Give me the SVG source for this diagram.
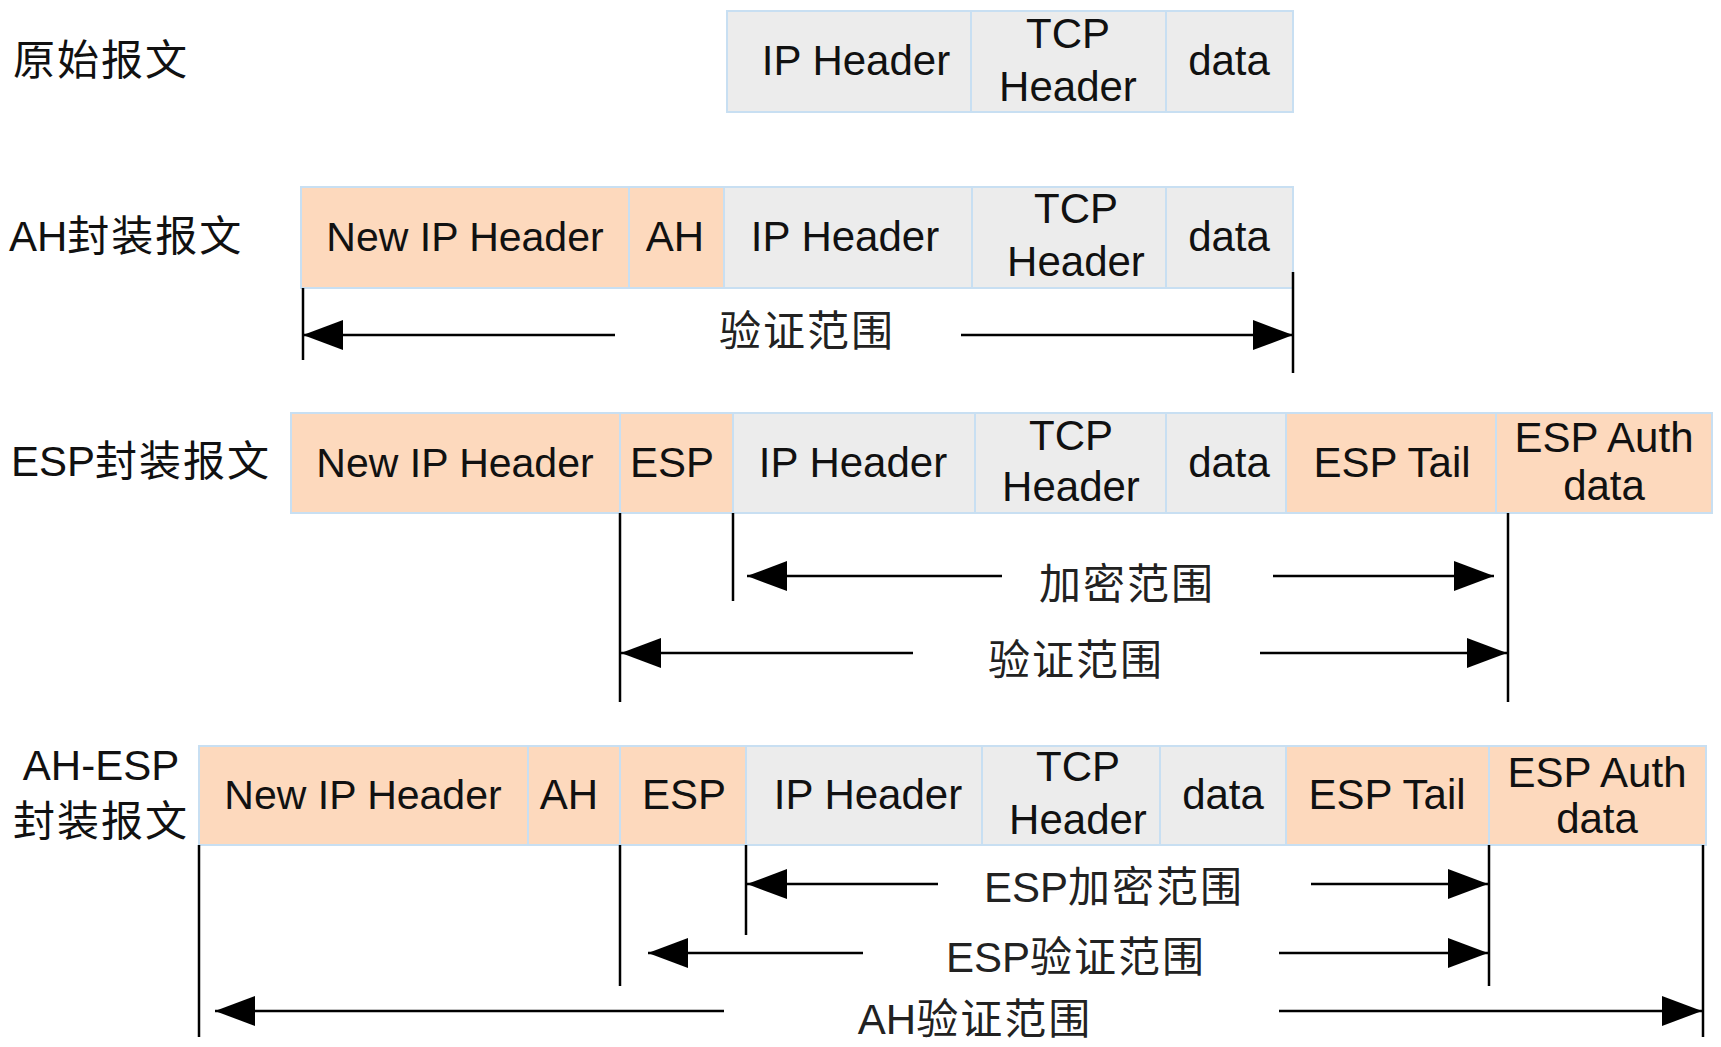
<svg xmlns="http://www.w3.org/2000/svg" width="1721" height="1047" viewBox="0 0 1721 1047">
<style>
.o{fill:#fdd9bd;stroke:#c8dff2;stroke-width:2}
.g{fill:#ececec;stroke:#c8dff2;stroke-width:2}
.t{font-family:"Liberation Sans",Arial,sans-serif;font-size:42px;fill:#111;text-anchor:middle}
.n{font-size:41px}
.l{font-family:"Liberation Sans","Noto Sans CJK SC",sans-serif;font-size:42px;fill:#111}
.c{font-family:"Liberation Sans","Noto Sans CJK SC",sans-serif;font-size:42px;fill:#222;text-anchor:middle}
.v{stroke:#000;stroke-width:2.5;fill:none}
.a{stroke:#000;stroke-width:2.5;fill:none;marker-end:url(#ah)}
</style>
<defs>
<marker id="ah" markerUnits="userSpaceOnUse" markerWidth="42" markerHeight="32" refX="40" refY="15" orient="auto">
<path d="M0,0 L40,15 L0,30 z" fill="#000"/>
</marker>
</defs>
<rect width="1721" height="1047" fill="#fff"/>

<g id="row-original">
<text class="l" x="13" y="75" letter-spacing="2">原始报文</text>
<g id="o-ip"><rect class="g" x="727" y="11" width="244" height="101"/><text class="t" x="856" y="75">IP Header</text></g>
<g id="o-tcp"><rect class="g" x="971" y="11" width="195" height="101"/><text class="t" x="1068" y="48">TCP</text><text class="t" x="1068" y="101">Header</text></g>
<g id="o-data"><rect class="g" x="1166" y="11" width="127" height="101"/><text class="t" x="1229" y="75">data</text></g>
</g>

<g id="row-ah">
<text class="l" x="9" y="251">AH<tspan letter-spacing="2">封装报文</tspan></text>
<g id="a-newip"><rect class="o" x="301" y="187" width="328" height="101"/><text class="t n" x="465" y="251">New IP Header</text></g>
<g id="a-ah"><rect class="o" x="629" y="187" width="95" height="101"/><text class="t" x="675" y="251">AH</text></g>
<g id="a-ip"><rect class="g" x="724" y="187" width="248" height="101"/><text class="t" x="845" y="251">IP Header</text></g>
<g id="a-tcp"><rect class="g" x="972" y="187" width="194" height="101"/><text class="t" x="1076" y="223">TCP</text><text class="t" x="1076" y="276">Header</text></g>
<g id="a-data"><rect class="g" x="1166" y="187" width="127" height="101"/><text class="t" x="1229" y="251">data</text></g>
</g>

<g id="row-esp">
<text class="l" x="11" y="476">ESP<tspan letter-spacing="2">封装报文</tspan></text>
<g id="e-newip"><rect class="o" x="291" y="413" width="329" height="100"/><text class="t n" x="455" y="477">New IP Header</text></g>
<g id="e-esp"><rect class="o" x="620" y="413" width="113" height="100"/><text class="t" x="672" y="477">ESP</text></g>
<g id="e-ip"><rect class="g" x="733" y="413" width="242" height="100"/><text class="t" x="853" y="477">IP Header</text></g>
<g id="e-tcp"><rect class="g" x="975" y="413" width="191" height="100"/><text class="t" x="1071" y="450">TCP</text><text class="t" x="1071" y="501">Header</text></g>
<g id="e-data"><rect class="g" x="1166" y="413" width="120" height="100"/><text class="t" x="1229" y="477">data</text></g>
<g id="e-tail"><rect class="o" x="1286" y="413" width="210" height="100"/><text class="t" x="1392" y="477">ESP Tail</text></g>
<g id="e-auth"><rect class="o" x="1496" y="413" width="216" height="100"/><text class="t" x="1604" y="452">ESP Auth</text><text class="t" x="1604" y="500">data</text></g>
</g>

<g id="row-ahesp">
<text class="t" x="101" y="780" font-size="44">AH-ESP</text>
<text class="l" x="13" y="836" letter-spacing="2">封装报文</text>
<g id="b-newip"><rect class="o" x="199" y="746" width="329" height="99"/><text class="t n" x="363" y="809">New IP Header</text></g>
<g id="b-ah"><rect class="o" x="528" y="746" width="92" height="99"/><text class="t" x="569" y="809">AH</text></g>
<g id="b-esp"><rect class="o" x="620" y="746" width="126" height="99"/><text class="t" x="684" y="809">ESP</text></g>
<g id="b-ip"><rect class="g" x="746" y="746" width="236" height="99"/><text class="t" x="868" y="809">IP Header</text></g>
<g id="b-tcp"><rect class="g" x="982" y="746" width="178" height="99"/><text class="t" x="1078" y="781">TCP</text><text class="t" x="1078" y="834">Header</text></g>
<g id="b-data"><rect class="g" x="1160" y="746" width="126" height="99"/><text class="t" x="1223" y="809">data</text></g>
<g id="b-tail"><rect class="o" x="1286" y="746" width="203" height="99"/><text class="t" x="1387" y="809">ESP Tail</text></g>
<g id="b-auth"><rect class="o" x="1489" y="746" width="217" height="99"/><text class="t" x="1597" y="787">ESP Auth</text><text class="t" x="1597" y="833">data</text></g>
</g>

<g id="connectors">
<line class="v" x1="303" y1="288" x2="303" y2="360"/>
<line class="v" x1="1293" y1="272" x2="1293" y2="373"/>
<line class="a" x1="615" y1="335" x2="303" y2="335"/>
<line class="a" x1="961" y1="335" x2="1293" y2="335"/>

<line class="v" x1="620" y1="513" x2="620" y2="702"/>
<line class="v" x1="733" y1="513" x2="733" y2="601"/>
<line class="v" x1="1508" y1="513" x2="1508" y2="702"/>
<line class="a" x1="1002" y1="576" x2="747" y2="576"/>
<line class="a" x1="1273" y1="576" x2="1494" y2="576"/>
<line class="a" x1="913" y1="653" x2="621" y2="653"/>
<line class="a" x1="1260" y1="653" x2="1507" y2="653"/>

<line class="v" x1="199" y1="845" x2="199" y2="1037"/>
<line class="v" x1="620" y1="845" x2="620" y2="986"/>
<line class="v" x1="746" y1="845" x2="746" y2="935"/>
<line class="v" x1="1489" y1="845" x2="1489" y2="986"/>
<line class="v" x1="1703" y1="845" x2="1703" y2="1037"/>
<line class="a" x1="938" y1="884" x2="747" y2="884"/>
<line class="a" x1="1311" y1="884" x2="1488" y2="884"/>
<line class="a" x1="863" y1="953" x2="648" y2="953"/>
<line class="a" x1="1279" y1="953" x2="1488" y2="953"/>
<line class="a" x1="724" y1="1011" x2="215" y2="1011"/>
<line class="a" x1="1279" y1="1011" x2="1702" y2="1011"/>
</g>

<g id="labels">
<text class="c" x="807" y="346" letter-spacing="2">验证范围</text>
<text class="c" x="1127" y="599" letter-spacing="2">加密范围</text>
<text class="c" x="1076" y="675" letter-spacing="2">验证范围</text>
<text class="c" x="1114" y="902">ESP<tspan letter-spacing="2">加密范围</tspan></text>
<text class="c" x="1076" y="972">ESP<tspan letter-spacing="2">验证范围</tspan></text>
<text class="c" x="975" y="1034">AH<tspan letter-spacing="2">验证范围</tspan></text>
</g>
</svg>
